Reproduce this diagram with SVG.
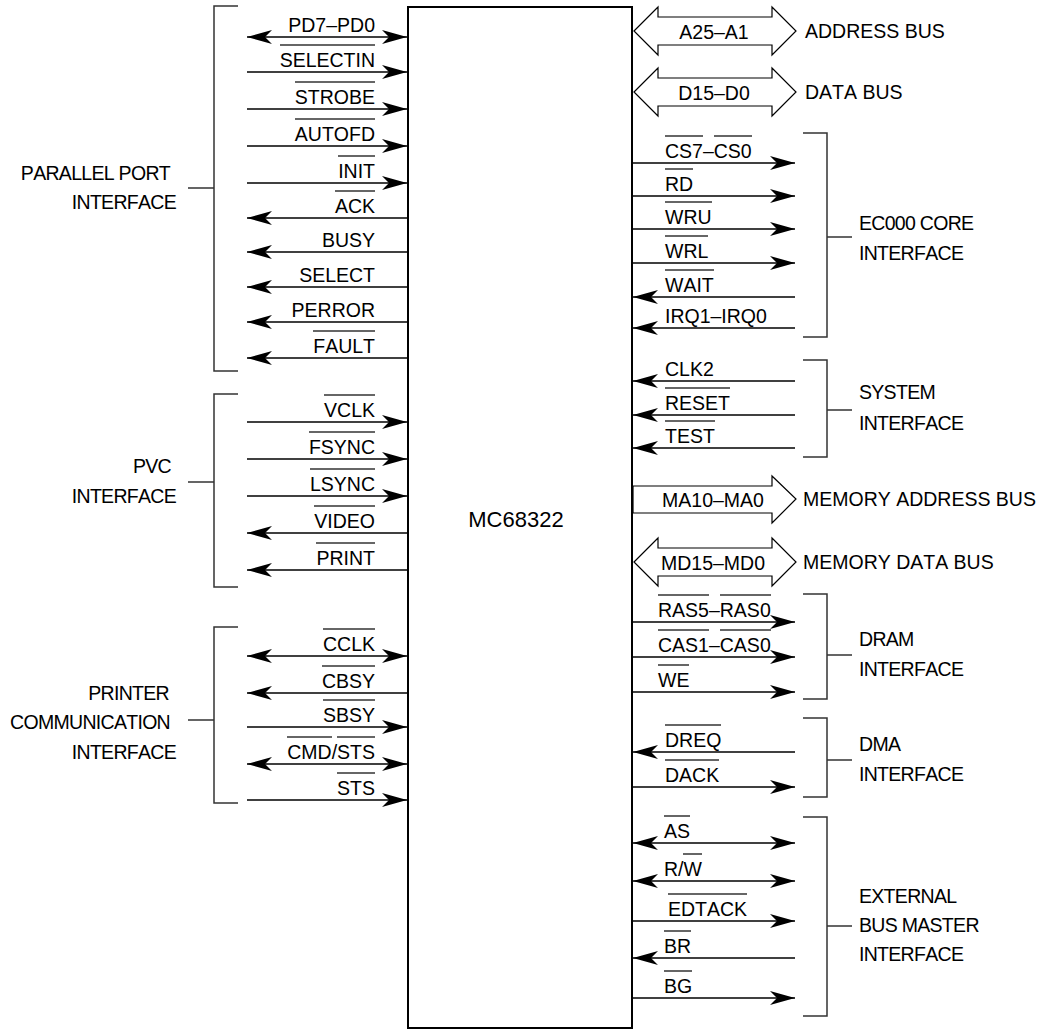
<svg xmlns="http://www.w3.org/2000/svg" width="1040" height="1030" viewBox="0 0 1040 1030">
<defs>
<style>
text{font-family:"Liberation Sans",Arial,sans-serif;font-size:19.5px;fill:#000;font-kerning:none}
.e{text-anchor:end}
.m{text-anchor:middle}
.g{letter-spacing:-0.7px}
.w{stroke:#000;stroke-width:1.5;fill:none}
.a{marker-end:url(#ah)}
.b{marker-start:url(#ah);marker-end:url(#ah)}
.o{stroke:#333;stroke-width:1.5}
.k{stroke:#333;stroke-width:1.5;fill:none}
.bus{stroke:#000;stroke-width:1.2;fill:#fff}
</style>
<marker id="ah" markerUnits="userSpaceOnUse" viewBox="0 0 25 14" refX="25" refY="7" markerWidth="25" markerHeight="14" orient="auto-start-reverse">
<path d="M0,0 L25,7 L0,14 L7,7 Z" fill="#000"/>
</marker>
</defs>
<rect width="1040" height="1030" fill="#fff"/>

<g id="chip">
<rect x="408" y="7" width="224" height="1021" fill="none" stroke="#000" stroke-width="2"/>
<text x="516" y="527" class="m" style="font-size:22px">MC68322</text>
</g>

<g id="parallel-port">
<path class="k" d="M238,6 H214 V371 H238 M188,188 H214"/>
<text x="170" y="180" class="e g">PARALLEL PORT</text>
<text x="176" y="209" class="e g">INTERFACE</text>
</g>
<g id="pvc">
<path class="k" d="M238,394 H214 V587 H238 M188,482 H214"/>
<text x="171" y="473" class="e g">PVC</text>
<text x="176" y="503" class="e g">INTERFACE</text>
</g>
<g id="printer-comm">
<path class="k" d="M238,627 H214 V803 H238 M188,720 H214"/>
<text x="169" y="700" class="e g">PRINTER</text>
<text x="170" y="729" class="e g">COMMUNICATION</text>
<text x="176" y="759" class="e g">INTERFACE</text>
</g>

<g id="ec000">
<path class="k" d="M803,133 H827 V337 H803 M827,237 H852"/>
<text x="859" y="230" class="g">EC000 CORE</text>
<text x="859" y="260" class="g">INTERFACE</text>
</g>
<g id="system">
<path class="k" d="M803,360 H827 V457 H803 M827,410 H852"/>
<text x="859" y="399" class="g">SYSTEM</text>
<text x="859" y="430" class="g">INTERFACE</text>
</g>
<g id="dram">
<path class="k" d="M803,594 H827 V699 H803 M827,655 H852"/>
<text x="859" y="646" class="g">DRAM</text>
<text x="859" y="676" class="g">INTERFACE</text>
</g>
<g id="dma">
<path class="k" d="M803,718 H827 V797 H803 M827,760 H852"/>
<text x="859" y="751" class="g">DMA</text>
<text x="859" y="781" class="g">INTERFACE</text>
</g>
<g id="ext-bus-master">
<path class="k" d="M803,817 H827 V1016 H803 M827,926 H852"/>
<text x="859" y="903" class="g">EXTERNAL</text>
<text x="859" y="932" class="g">BUS MASTER</text>
<text x="859" y="961" class="g">INTERFACE</text>
</g>

<g id="buses">
<path class="bus" d="M634,31 L658,7 V17 H772 V7 L796,31 L772,55 V45 H658 V55 Z"/>
<text x="714" y="39" class="m">A25–A1</text>
<text x="805" y="38">ADDRESS BUS</text>
<path class="bus" d="M634,92 L658,68 V78 H772 V68 L796,92 L772,116 V106 H658 V116 Z"/>
<text x="714" y="100" class="m">D15–D0</text>
<text x="805" y="99">DATA BUS</text>
<path class="bus" d="M633,486 H772 V476 L796,499 L772,523 V513 H633 Z"/>
<text x="713" y="507" class="m">MA10–MA0</text>
<text x="803" y="506">MEMORY ADDRESS BUS</text>
<path class="bus" d="M634,562 L658,538 V548 H772 V538 L796,562 L772,586 V576 H658 V586 Z"/>
<text x="713" y="570" class="m">MD15–MD0</text>
<text x="803" y="569">MEMORY DATA BUS</text>
</g>

<g id="connectors">
<line class="w b" x1="247" y1="37" x2="407" y2="37"/>
<line class="w a" x1="247" y1="72" x2="407" y2="72"/>
<line class="w a" x1="247" y1="109" x2="407" y2="109"/>
<line class="w a" x1="247" y1="146" x2="407" y2="146"/>
<line class="w a" x1="247" y1="183" x2="407" y2="183"/>
<line class="w a" x1="408" y1="218" x2="247" y2="218"/>
<line class="w a" x1="408" y1="252" x2="247" y2="252"/>
<line class="w a" x1="408" y1="287" x2="247" y2="287"/>
<line class="w a" x1="408" y1="322" x2="247" y2="322"/>
<line class="w a" x1="408" y1="358" x2="247" y2="358"/>
<line class="w a" x1="247" y1="422" x2="407" y2="422"/>
<line class="w a" x1="247" y1="459" x2="407" y2="459"/>
<line class="w a" x1="247" y1="496" x2="407" y2="496"/>
<line class="w a" x1="408" y1="533" x2="247" y2="533"/>
<line class="w a" x1="408" y1="570" x2="247" y2="570"/>
<line class="w b" x1="247" y1="656" x2="407" y2="656"/>
<line class="w a" x1="408" y1="693" x2="247" y2="693"/>
<line class="w a" x1="247" y1="727" x2="407" y2="727"/>
<line class="w b" x1="247" y1="764" x2="407" y2="764"/>
<line class="w a" x1="247" y1="800" x2="407" y2="800"/>
<line class="w a" x1="632" y1="163" x2="795" y2="163"/>
<line class="w a" x1="632" y1="196" x2="795" y2="196"/>
<line class="w a" x1="632" y1="229" x2="795" y2="229"/>
<line class="w a" x1="632" y1="263" x2="795" y2="263"/>
<line class="w a" x1="795" y1="297" x2="633" y2="297"/>
<line class="w a" x1="795" y1="328" x2="633" y2="328"/>
<line class="w a" x1="795" y1="381" x2="633" y2="381"/>
<line class="w a" x1="795" y1="415" x2="633" y2="415"/>
<line class="w a" x1="795" y1="448" x2="633" y2="448"/>
<line class="w a" x1="632" y1="622" x2="795" y2="622"/>
<line class="w a" x1="632" y1="657" x2="795" y2="657"/>
<line class="w a" x1="632" y1="692" x2="795" y2="692"/>
<line class="w a" x1="795" y1="752" x2="633" y2="752"/>
<line class="w a" x1="632" y1="787" x2="795" y2="787"/>
<line class="w b" x1="633" y1="843" x2="795" y2="843"/>
<line class="w b" x1="633" y1="881" x2="795" y2="881"/>
<line class="w a" x1="632" y1="921" x2="795" y2="921"/>
<line class="w a" x1="795" y1="958" x2="633" y2="958"/>
<line class="w a" x1="632" y1="998" x2="795" y2="998"/>
</g>

<g id="signal-labels">
<text x="375" y="32" class="e">PD7–PD0</text>
<text x="375" y="67" class="e">SELECTIN</text>
<text x="375" y="104" class="e">STROBE</text>
<text x="375" y="141" class="e">AUTOFD</text>
<text x="375" y="178" class="e">INIT</text>
<text x="375" y="213" class="e">ACK</text>
<text x="375" y="247" class="e">BUSY</text>
<text x="375" y="282" class="e">SELECT</text>
<text x="375" y="317" class="e">PERROR</text>
<text x="375" y="353" class="e">FAULT</text>
<text x="375" y="417" class="e">VCLK</text>
<text x="375" y="454" class="e">FSYNC</text>
<text x="375" y="491" class="e">LSYNC</text>
<text x="375" y="528" class="e">VIDEO</text>
<text x="375" y="565" class="e">PRINT</text>
<text x="375" y="651" class="e">CCLK</text>
<text x="375" y="688" class="e">CBSY</text>
<text x="375" y="722" class="e">SBSY</text>
<text x="375" y="759" class="e">CMD/STS</text>
<text x="375" y="795" class="e">STS</text>

<text x="665" y="158">CS7–CS0</text>
<text x="665" y="191">RD</text>
<text x="665" y="224">WRU</text>
<text x="665" y="258">WRL</text>
<text x="665" y="292">WAIT</text>
<text x="665" y="323">IRQ1–IRQ0</text>
<text x="665" y="376">CLK2</text>
<text x="665" y="410">RESET</text>
<text x="665" y="443">TEST</text>
<text x="658" y="617">RAS5–RAS0</text>
<text x="658" y="652">CAS1–CAS0</text>
<text x="658" y="687">WE</text>
<text x="665" y="747">DREQ</text>
<text x="665" y="782">DACK</text>
<text x="664" y="838">AS</text>
<text x="664" y="876">R/W</text>
<text x="668" y="916">EDTACK</text>
<text x="664" y="953">BR</text>
<text x="664" y="993">BG</text>
</g>

<g id="overlines" class="o">
<line x1="280" y1="45" x2="375" y2="45"/>
<line x1="295" y1="82" x2="375" y2="82"/>
<line x1="295" y1="119" x2="375" y2="119"/>
<line x1="338" y1="156" x2="375" y2="156"/>
<line x1="335" y1="191" x2="375" y2="191"/>
<line x1="313" y1="331" x2="375" y2="331"/>
<line x1="324" y1="395" x2="375" y2="395"/>
<line x1="309" y1="432" x2="375" y2="432"/>
<line x1="310" y1="469" x2="375" y2="469"/>
<line x1="314" y1="506" x2="375" y2="506"/>
<line x1="316" y1="543" x2="375" y2="543"/>
<line x1="323" y1="629" x2="375" y2="629"/>
<line x1="322" y1="666" x2="375" y2="666"/>
<line x1="323" y1="700" x2="375" y2="700"/>
<line x1="287" y1="737" x2="332" y2="737"/>
<line x1="337" y1="737" x2="375" y2="737"/>
<line x1="337" y1="773" x2="375" y2="773"/>

<line x1="665" y1="136" x2="703" y2="136"/>
<line x1="714" y1="136" x2="752" y2="136"/>
<line x1="665" y1="169" x2="693" y2="169"/>
<line x1="665" y1="202" x2="712" y2="202"/>
<line x1="665" y1="236" x2="708" y2="236"/>
<line x1="665" y1="270" x2="714" y2="270"/>
<line x1="665" y1="388" x2="730" y2="388"/>
<line x1="665" y1="421" x2="715" y2="421"/>
<line x1="658" y1="595" x2="709" y2="595"/>
<line x1="720" y1="595" x2="771" y2="595"/>
<line x1="658" y1="630" x2="709" y2="630"/>
<line x1="720" y1="630" x2="771" y2="630"/>
<line x1="658" y1="665" x2="689" y2="665"/>
<line x1="665" y1="725" x2="721" y2="725"/>
<line x1="665" y1="760" x2="719" y2="760"/>
<line x1="664" y1="816" x2="690" y2="816"/>
<line x1="683" y1="854" x2="702" y2="854"/>
<line x1="668" y1="894" x2="747" y2="894"/>
<line x1="664" y1="931" x2="691" y2="931"/>
<line x1="664" y1="971" x2="692" y2="971"/>
</g>
</svg>
